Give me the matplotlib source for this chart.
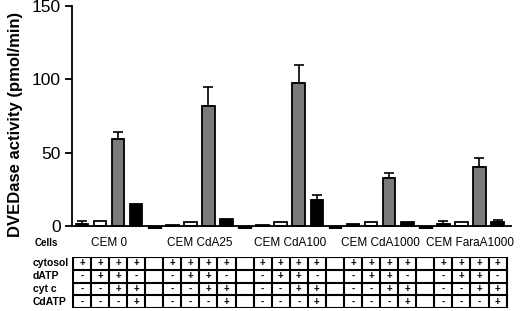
import matplotlib
matplotlib.use("Agg")
import matplotlib.pyplot as plt

plt.rcParams['font.family'] = ['Liberation Sans', 'DejaVu Sans']

groups = ["CEM 0", "CEM CdA25", "CEM CdA100", "CEM CdA1000", "CEM FaraA1000"]

# four conditions per group, plus a near-zero spacer bar between groups
cytosol_only = [1.3, 1.0, 1.0, 1.2, 1.5]
cytosol_datp = [3.5, 3.0, 3.0, 3.0, 2.5]
datp_cytc = [59.5, 82, 97.5, 33, 40]
cytc_cdatp = [15, 4.5, 18, 3, 3]
spacer = [-1, -1, -1, -1]

err_cytosol_only = [2, 0, 0, 0, 2]
err_datp_cytc = [4.5, 13, 12.5, 3.5, 6.5]
err_cytc_cdatp = [0, 0, 3.5, 0, 1.2]

row_labels = ["cytosol", "dATP", "cyt c", "CdATP"]
cond_signs = [["+", "+", "+", "+"],
              ["-", "+", "+", "-"],
              ["-", "-", "+", "+"],
              ["-", "-", "-", "+"]]

colors = ["black", "white", "#7a7a7a", "black"]

fig = plt.figure(figsize=(5.2, 3.11), dpi=100)
ax = fig.add_axes([72 / 520, 82 / 311, 440 / 520, 223 / 311])

# bar positions: 5 slots per group, last group has only 4
series = [cytosol_only, cytosol_datp, datp_cytc, cytc_cdatp]
errs = [err_cytosol_only, None, err_datp_cytc, err_cytc_cdatp]
for g in range(len(groups)):
    for k in range(4):
        x = g * 5 + k
        v = series[k][g]
        ax.bar(x, v, width=0.7, color=colors[k], edgecolor="black",
               linewidth=1.3, zorder=2)
        if errs[k] is not None and errs[k][g] > 0:
            ax.errorbar(x, v, yerr=[[0], [errs[k][g]]], fmt="none",
                        ecolor="black", elinewidth=1.2, capsize=3.5,
                        capthick=1.2, zorder=1)
    if g < len(spacer):
        ax.bar(g * 5 + 4, spacer[g], width=0.7, color="black",
               edgecolor="black", linewidth=1.0, zorder=2)
    ax.text(g * 5 + 1.5, -7.5, groups[g], ha="center", va="top",
            fontsize=8.5)

ax.axhline(0, color="black", linewidth=1.3, zorder=3)
ax.set_xlim(-0.55, 23.8)
ax.set_ylim(-2, 150)
ax.set_yticks([0, 50, 100, 150])
ax.tick_params(axis="y", direction="out", length=5, width=1.3,
               labelsize=12.5, pad=3)
ax.set_xticks([])
for s in ["top", "right", "bottom"]:
    ax.spines[s].set_visible(False)
ax.spines["left"].set_bounds(0, 150)
ax.spines["left"].set_linewidth(1.3)
ax.set_ylabel("DVEDase activity (pmol/min)", fontsize=12, fontweight="bold")
ax.yaxis.set_label_coords(-0.112, 0.47)

fig.text(35 / 520, 1 - 243 / 311, "Cells", fontsize=7, fontweight="bold",
         ha="left", va="center")

# condition table under the bars
tab = fig.add_axes([72 / 520, 3 / 311, 440 / 520, 51 / 311])
tab.set_xlim(-0.55, 23.8)
tab.set_ylim(4, 0)
tab.axis("off")
ncols = 24
for r in range(5):
    tab.plot([-0.5, ncols - 0.5], [r, r], color="black", lw=1.5,
             solid_capstyle="projecting")
for c in range(ncols + 1):
    tab.plot([c - 0.5, c - 0.5], [0, 4], color="black", lw=1.5,
             solid_capstyle="projecting")
for g in range(len(groups)):
    for k in range(4):
        for r in range(4):
            tab.text(g * 5 + k, r + 0.5, cond_signs[r][k], ha="center",
                     va="center", fontsize=7, fontweight="bold")
for r, lab in enumerate(row_labels):
    fig.text(33 / 520, (3 + 51 * (1 - (r + 0.5) / 4)) / 311, lab,
             fontsize=7.5, fontweight="bold", ha="left", va="center")

fig.savefig("out.png", dpi=100)
